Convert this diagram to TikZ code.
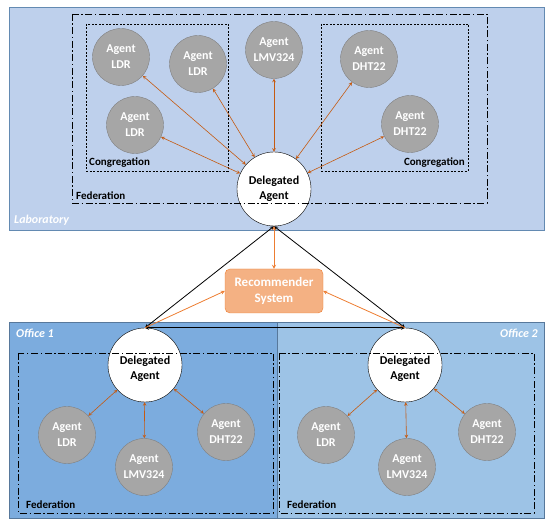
\documentclass[tikz,border=0pt]{standalone}
\usepackage{fontspec}
\setmainfont{Carlito}
\definecolor{labblue}{RGB}{190,208,236}
\definecolor{officeone}{RGB}{124,172,222}
\definecolor{officetwo}{RGB}{157,195,230}
\definecolor{agentgray}{RGB}{166,166,166}
\definecolor{agentedge}{RGB}{128,128,128}
\definecolor{linkorange}{RGB}{197,90,17}
\definecolor{recorange}{RGB}{244,177,131}
\definecolor{recedge}{RGB}{237,125,49}
\begin{document}
\begin{tikzpicture}[x=1pt, y=-1pt, >=stealth,
  agent/.style={circle, draw=agentedge, fill=agentgray, minimum size=57pt, inner sep=0pt, align=center, text=white, font=\fontsize{12}{16}\selectfont\bfseries},
  delegated/.style={circle, draw=black, fill=white, minimum size=74pt, inner sep=0pt, align=center, font=\fontsize{12}{15}\selectfont\bfseries},
  dtext/.style={inner sep=0pt, align=center, font=\fontsize{12}{15}\selectfont\bfseries},
  recsys/.style={rectangle, rounded corners=5pt, draw=recedge, fill=recorange, minimum width=98pt, minimum height=44pt, align=center, text=white, font=\fontsize{13}{16}\selectfont\bfseries},
  fedbox/.style={line width=0.9pt, dash pattern=on 7pt off 2.5pt on 1.5pt off 2.5pt},
  congbox/.style={line width=0.7pt, dash pattern=on 2pt off 1.5pt},
  tag/.style={font=\fontsize{11}{13}\selectfont\bfseries, inner sep=1pt},
  place/.style={font=\fontsize{12}{14}\selectfont\bfseries\itshape, text=white, inner sep=1pt},
  link/.style={<->, draw=linkorange, line width=0.6pt},
  reclink/.style={draw=recedge, line width=0.8pt}]
\useasboundingbox (0,0) rectangle (550,526);
% rooms
\draw[fill=labblue, draw=officeone!80!black, line width=0.5pt] (9,7) rectangle (544,230);
\draw[fill=officeone, draw=officeone!70!black, line width=0.5pt] (9,322) rectangle (277,518);
\draw[fill=officetwo, draw=officeone!70!black, line width=0.5pt] (277,322) rectangle (544,518);
\node[place, anchor=south west] (lab) at (13,227) {Laboratory};
\node[place, anchor=north west] (off1) at (15,328) {Office 1};
\node[place, anchor=north east] (off2) at (539,328) {Office 2};
% laboratory agents
\node[agent] (l1) at (121,57) {Agent\\LDR};
\node[agent] (l2) at (198,64) {Agent\\LDR};
\node[agent] (l3) at (135,125) {Agent\\LDR};
\node[agent] (l4) at (274,50) {Agent\\LMV324};
\node[agent] (l5) at (369,59) {Agent\\DHT22};
\node[agent] (l6) at (410,124) {Agent\\DHT22};
\node[delegated] (dl) at (274,189) {Delegated\\Agent};
% office agents
\node[delegated] (d1) at (145,365) {};
\node[dtext] (d1t) at ([yshift=-3.5pt]d1.center) {Delegated\\Agent};
\node[agent] (a1) at (67,435) {Agent\\LDR};
\node[agent] (a2) at (144,467) {Agent\\LMV324};
\node[agent] (a3) at (226,432) {Agent\\DHT22};
\node[delegated] (d2) at (405,365) {};
\node[dtext] (d2t) at ([yshift=-3.5pt]d2.center) {Delegated\\Agent};
\node[agent] (b1) at (326,435) {Agent\\LDR};
\node[agent] (b2) at (407,467) {Agent\\LMV324};
\node[agent] (b3) at (487,432) {Agent\\DHT22};
\node[recsys] (rs) at (274,291) {Recommender\\System};
% groups
\draw[congbox] (86,24) rectangle (228,171);
\draw[congbox] (321,24) rectangle (468,171);
\node[tag, anchor=south west] (c1) at (88,169) {Congregation};
\node[tag, anchor=south east] (c2) at (466,169) {Congregation};
\draw[fedbox] (72,14) rectangle (487,203);
\draw[fedbox] (18,353) rectangle (273,513);
\draw[fedbox] (279,353) rectangle (534,513);
\node[tag, anchor=south west] (f0) at (75,201) {Federation};
\node[tag, anchor=south west] (f1) at (25,510) {Federation};
\node[tag, anchor=south west] (f2) at (286,510) {Federation};
% links
\foreach \n in {l1,l2,l3,l4,l5,l6} \draw[link] (dl) -- (\n);
\foreach \n in {a1,a2,a3} \draw[link] (d1) -- (\n);
\foreach \n in {b1,b2,b3} \draw[link] (d2) -- (\n);
\draw[<->, line width=0.8pt] (dl.south) -- (d1.north);
\draw[<->, line width=0.8pt] (dl.south) -- (d2.north);
\draw[<->, line width=0.8pt] (d1.north) -- (d2.north);
\draw[reclink, <->] (dl.south) -- (rs.north);
\draw[reclink, ->] (d1.north) -- (rs.west);
\draw[reclink, ->] (d2.north) -- (rs.east);
\end{tikzpicture}
\end{document}
